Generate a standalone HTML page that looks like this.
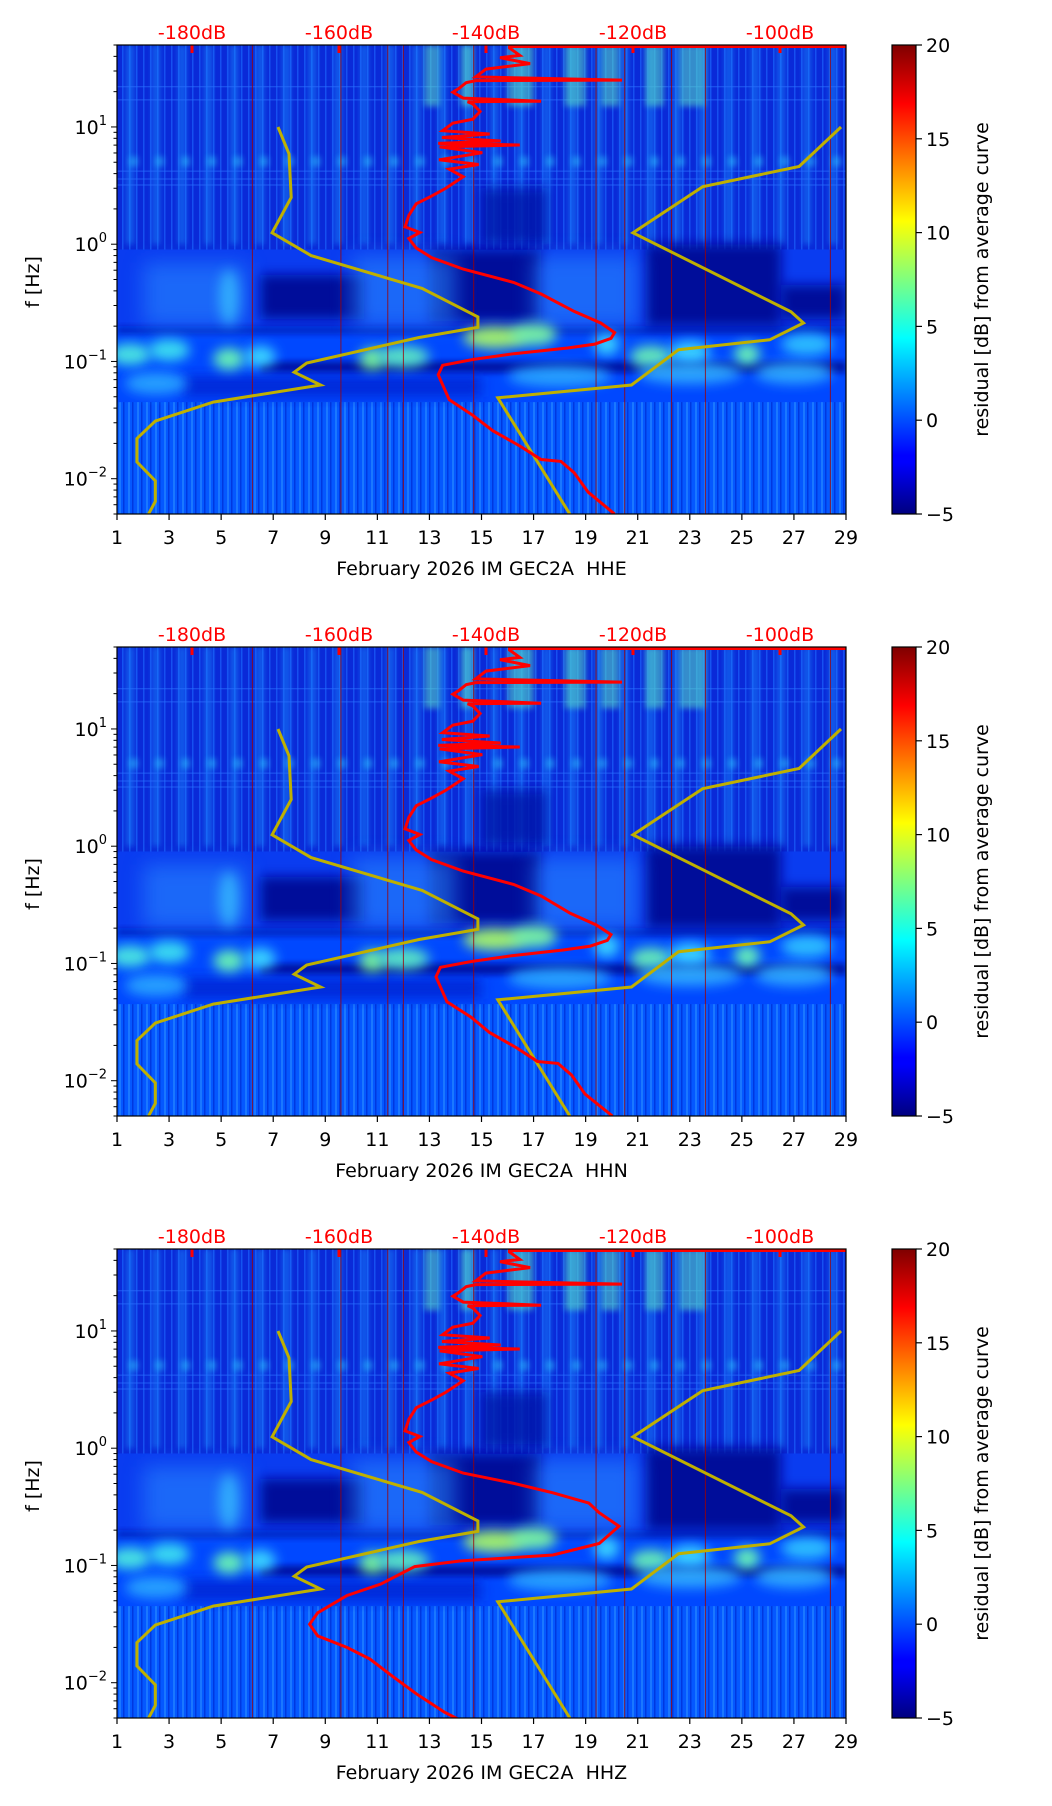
<!DOCTYPE html>
<html><head><meta charset="utf-8">
<style>
html,body{margin:0;padding:0;background:#fff;}
svg{display:block;font-family:"DejaVu Sans","Liberation Sans",sans-serif;}
</style></head>
<body>
<svg id="fig" width="1052" height="1806" viewBox="0 0 1052 1806" xmlns="http://www.w3.org/2000/svg">
<defs>
<linearGradient id="jet" x1="0" y1="1" x2="0" y2="0">
<stop offset="0" stop-color="#00007f"/><stop offset="0.11" stop-color="#0000ff"/><stop offset="0.125" stop-color="#0000ff"/>
<stop offset="0.375" stop-color="#00ffff"/><stop offset="0.5" stop-color="#7fff7f"/><stop offset="0.625" stop-color="#ffff00"/>
<stop offset="0.875" stop-color="#ff0000"/><stop offset="1" stop-color="#7f0000"/>
</linearGradient>
<pattern id="vstripe" width="9" height="10" patternUnits="userSpaceOnUse">
<rect x="0" y="0" width="9" height="10" fill="#0458ff"/>
<rect x="2" y="0" width="2" height="10" fill="#1a78ff"/>
<rect x="6" y="0" width="1.5" height="10" fill="#0038e0"/>
</pattern>
<pattern id="vstripe2" width="7" height="10" patternUnits="userSpaceOnUse">
<rect x="0" y="0" width="7" height="10" fill="#0a2ad8"/>
<rect x="3" y="0" width="1.5" height="10" fill="#1650f0"/>
</pattern>
<filter id="blur6" x="-50%" y="-50%" width="200%" height="200%"><feGaussianBlur stdDeviation="6"/></filter>
<filter id="blur3" x="-50%" y="-50%" width="200%" height="200%"><feGaussianBlur stdDeviation="3"/></filter>
<filter id="blur10" x="-50%" y="-50%" width="200%" height="200%"><feGaussianBlur stdDeviation="10"/></filter>
</defs>
</svg>
<script>
// ---- chart data ----
const dayTicks = [1,3,5,7,9,11,13,15,17,19,21,23,25,27,29];
const dbTicks = [-180,-160,-140,-120,-100];
const yTickExp = [1,0,-1,-2];
const cbTicks = [20,15,10,5,0,-5];
const channels = ["HHE","HHN","HHZ"];
// low noise model (dB, frequency Hz)
const nlnmDb = [-168.3,-166.8,-166.5,-169.1,-163.8,-148.7,-141.1,-141.1,-149.1,-164.4,-166.1,-162.5,-177.1,-185.0,-187.5,-187.5,-185.0,-185.0,-185.9];
const nlnmFreq = [10,5.9,2.5,1.25,0.80,0.42,0.24,0.195,0.16,0.097,0.081,0.063,0.045,0.031,0.022,0.0139,0.0096,0.0064,0.005];
// high noise model
const nhnmDb = [-91.7,-97.4,-110.5,-120.0,-98.5,-96.8,-101.4,-113.8,-120.2,-138.4,-128.6];
const nhnmFreq = [10,4.6,3.1,1.25,0.265,0.213,0.153,0.126,0.063,0.049,0.005];
// median PSD upper part (dB, log10 f), shared shape
const redUpperDb = [-90.4,-136.8,-136.8,-135.4,-138.1,-134.0,-140.0,-141.4,-121.5,-141.4,-142.7,-143.7,-144.5,-143.1,-132.5,-142.5,-141.8,-140.8,-141.8,-144.5,-145.9,-139.5,-146.0,-138.0,-146.5,-135.4,-146.3,-140.5,-146.4,-141.0,-145.0,-143.1,-145.5,-147.4,-149.5,-150.5,-151.0,-149.0,-150.5,-149.5,-147.4,-143.1];
const redUpperLogF = [1.699,1.699,1.673,1.610,1.591,1.54,1.493,1.427,1.40,1.395,1.378,1.328,1.296,1.246,1.22,1.215,1.197,1.132,1.066,1.033,0.968,0.94,0.91,0.88,0.86,0.846,0.83,0.78,0.72,0.68,0.640,0.575,0.476,0.410,0.345,0.246,0.148,0.10,0.049,-0.032,-0.114,-0.212];
// lower parts per channel
const redLowerDb1 = [-136.2,-132.5,-128.0,-124.4,-122.5,-123.0,-125.2,-128.9,-136.2,-141.8,-145.9,-146.5,-145.0,-141.8,-139.1,-135.4,-132.5,-129.8,-128.0,-126.1,-122.5];
const redLowerLogF1 = [-0.327,-0.425,-0.573,-0.672,-0.754,-0.803,-0.852,-0.885,-0.934,-0.983,-1.033,-1.114,-1.327,-1.459,-1.590,-1.721,-1.836,-1.852,-1.950,-2.115,-2.301];
const redLowerDb2 = [-136.2,-132.5,-128.5,-125.0,-123.0,-123.5,-125.8,-129.5,-136.5,-142.0,-146.2,-146.8,-145.3,-142.0,-139.5,-135.8,-133.0,-130.2,-128.4,-126.5,-122.8];
const redLowerDb3 = [-136.2,-130.9,-126.0,-124.6,-121.9,-124.6,-130.9,-143.4,-149.7,-154.3,-158.9,-162.9,-164.0,-162.9,-158.9,-155.8,-152.7,-149.5,-145.7,-141.0];
const redLowerLogF3 = [-0.30,-0.38,-0.468,-0.55,-0.665,-0.813,-0.911,-0.961,-1.01,-1.158,-1.256,-1.404,-1.502,-1.601,-1.70,-1.798,-1.946,-2.094,-2.25,-2.40];
const vLineDays = [6.2,9.6,11.4,12.0,14.7,19.4,20.5,22.3,23.6,28.4];

// ---- layout ----
const L=117,R=846,H=469,CBX=892,CBW=24;
const tops=[45,647,1249];
const NS="http://www.w3.org/2000/svg";
const svg=document.getElementById('fig');
function mk(tag,attrs,parent){const e=document.createElementNS(NS,tag);for(const k in attrs)e.setAttribute(k,attrs[k]);(parent||svg).appendChild(e);return e;}
const xDay=d=>L+(d-1)/28*(R-L);
const xDb=db=>192+(db+180)/20*147;
const yLog=(top,lf)=>top+(Math.log10(50)-lf)/4*H;
const yF=(top,f)=>yLog(top,Math.log10(f));

function panel(pi){
  const top=tops[pi],bot=top+H;
  const g=mk('g',{});
  
  
  const cid='clip'+pi;
  const cp=mk('clipPath',{id:cid},g);mk('rect',{x:L,y:top,width:R-L,height:H},cp);
  const sp=mk('g',{'clip-path':'url(#'+cid+')'},g);
  
  
  // base layers
  mk('rect',{x:L,y:top,width:R-L,height:H,fill:'#0048ff'},sp);
  mk('rect',{x:L,y:top,width:R-L,height:yF(top,0.9)-top,fill:'url(#vstripe2)'},sp);
  mk('rect',{x:L,y:yF(top,0.9),width:R-L,height:yF(top,0.2)-yF(top,0.9),fill:'#0a3cf0'},sp);
  mk('rect',{x:L,y:yF(top,0.045),width:R-L,height:bot-yF(top,0.045),fill:'url(#vstripe)'},sp);
  // daily stripes in upper band
  for(let d=1;d<29;d++){
    const x=xDay(d+0.35);
    mk('rect',{x:x,y:top,width:xDay(d+0.65)-x,height:yF(top,1.0)-top,fill:'#1d90ff',opacity:0.5,filter:'url(#blur3)'},sp);
    mk('rect',{x:x+3,y:yF(top,5.6),width:9,height:yF(top,4.6)-yF(top,5.6),fill:'#30d0ff',opacity:0.45,filter:'url(#blur3)'},sp);
  }
  // horizontal hum lines
  [3.2,3.6,4.2,17,22].forEach(f=>{
    mk('line',{x1:L,x2:R,y1:yF(top,f),y2:yF(top,f),stroke:'#2a70ff','stroke-width':1,opacity:0.7},sp);
  });
  // bright high-frequency columns
  [[12.8,13.4],[14.2,14.7],[16.0,17.0],[18.2,19.0],[19.6,20.3],[21.3,22.0],[22.6,23.6]].forEach(c=>{
    mk('rect',{x:xDay(c[0]),y:top,width:xDay(c[1])-xDay(c[0]),height:yF(top,15)-top,fill:'#60f0c0',opacity:0.5,filter:'url(#blur3)'},sp);
  });
  // dark navy regions
  const dark='#00089a';
  mk('rect',{x:xDay(15),y:yF(top,3),width:xDay(17.5)-xDay(15),height:yF(top,1)-yF(top,3),fill:'#0012a8',opacity:0.8,filter:'url(#blur6)'},sp);
  [[13.0,17.3,0.22,0.9],[21.3,26.5,0.2,1.0],[6.5,10.5,0.23,0.55],[26.5,29,0.23,0.45]].forEach(r=>{
    mk('rect',{x:xDay(r[0]),y:yF(top,r[3]),width:xDay(r[1])-xDay(r[0]),height:yF(top,r[2])-yF(top,r[3]),fill:dark,filter:'url(#blur6)'},sp);
  });
  mk('rect',{x:xDay(1),y:yF(top,0.2),width:xDay(29)-xDay(1),height:yF(top,0.17)-yF(top,0.2),fill:dark,opacity:0.5,filter:'url(#blur3)'},sp);
  mk('rect',{x:xDay(6.5),y:yF(top,0.1),width:xDay(29)-xDay(6.5),height:yF(top,0.08)-yF(top,0.1),fill:dark,opacity:0.85,filter:'url(#blur3)'},sp);
  mk('rect',{x:xDay(3.5),y:yF(top,0.075),width:xDay(15)-xDay(3.5),height:yF(top,0.05)-yF(top,0.075),fill:'#0020d0',opacity:0.8,filter:'url(#blur6)'},sp);
  // diffuse cloud 0.2-0.6 Hz
  [[2,6,0.2,0.7],[10,14,0.2,0.8],[17,21,0.2,0.8]].forEach(r=>{
    mk('rect',{x:xDay(r[0]),y:yF(top,r[3]),width:xDay(r[1])-xDay(r[0]),height:yF(top,r[2])-yF(top,r[3]),fill:'#2a8cff',opacity:0.55,filter:'url(#blur10)'},sp);
  });
  // microseism blobs
  [[1.5,0.115,0.8,'#50f0e0'],[3,0.125,0.8,'#40e8f0'],[5.3,0.105,0.6,'#70ffb0'],[6.5,0.11,0.6,'#40e0ff'],[10.8,0.105,0.5,'#80ff90'],[12,0.11,1.0,'#60f0c0'],[15.5,0.16,1.2,'#b0ff60'],[17,0.17,0.9,'#80ffa0'],[19.8,0.14,0.5,'#40e0ff'],[21.5,0.11,0.8,'#70f8b0'],[23,0.12,0.8,'#40e0ff'],[25.2,0.115,0.5,'#70ffb0'],[27.5,0.14,1.0,'#30c8ff'],[2.5,0.065,1.2,'#2aa8ff'],[18,0.075,2,'#2aa8ff'],[23,0.08,2,'#30b0ff'],[27,0.08,1.5,'#30b0ff']].forEach(b=>{
    mk('ellipse',{cx:xDay(b[0]),cy:yF(top,b[1]),rx:b[2]*26,ry:11,fill:b[3],opacity:0.9,filter:'url(#blur6)'},sp);
  });
  mk('ellipse',{cx:xDay(5.3),cy:yF(top,0.35),rx:10,ry:28,fill:'#40d8ff',opacity:0.6,filter:'url(#blur6)'},sp);
  // spectral vertical lines (thin dark red)
  vLineDays.forEach(d=>{
    const l=mk('line',{x1:xDay(d),x2:xDay(d),y1:top,y2:bot,stroke:'#a00000','stroke-width':1,opacity:0.8},sp);
    
    
  });
  // top dB ticks
  dbTicks.forEach(db=>{
    const t=mk('rect',{x:xDb(db)-1.5,y:top,width:3,height:8,fill:'#ff0000'},g);
    
    
  });
  // noise models
  const pts=(dbs,fs)=>dbs.map((v,i)=>xDb(v).toFixed(1)+','+yF(top,fs[i]).toFixed(1)).join(' ');
  const nl=mk('polyline',{points:pts(nlnmDb,nlnmFreq),fill:'none',stroke:'#bfb000','stroke-width':3,'clip-path':'url(#'+cid+')'},g);
  
  
  const nh=mk('polyline',{points:pts(nhnmDb,nhnmFreq),fill:'none',stroke:'#bfb000','stroke-width':3,'clip-path':'url(#'+cid+')'},g);
  
  
  // red PSD
  let lowDb,lowLf;
  if(pi===0){lowDb=redLowerDb1;lowLf=redLowerLogF1;}
  else if(pi===1){lowDb=redLowerDb2;lowLf=redLowerLogF1;}
  else {lowDb=redLowerDb3;lowLf=redLowerLogF3;}
  const allDb=redUpperDb.concat(lowDb), allLf=redUpperLogF.concat(lowLf);
  const rp=allDb.map((v,i)=>xDb(v).toFixed(1)+','+yLog(top,allLf[i]).toFixed(1)).join(' ');
  const rl=mk('polyline',{points:rp,fill:'none',stroke:'#ff0000','stroke-width':3,'clip-path':'url(#'+cid+')'},g);
  
  
  const rt=mk('line',{x1:xDb(-136.8),x2:R,y1:top+1.5,y2:top+1.5,stroke:'#ff0000','stroke-width':3},g);
  
  
  // frame
  const fr=mk('rect',{x:L,y:top,width:R-L,height:H,fill:'none',stroke:'#000','stroke-width':1.2},g);
  
  
  // x ticks
  dayTicks.forEach(d=>{
    mk('line',{x1:xDay(d),x2:xDay(d),y1:bot,y2:bot+6,stroke:'#000','stroke-width':1.2},g);
    const t=mk('text',{x:xDay(d),y:bot+30,'text-anchor':'middle','font-size':19,fill:'#000'},g);
    t.textContent=d;
    
    
  });
  const xl=mk('text',{x:(L+R)/2,y:bot+61,'text-anchor':'middle','font-size':19,fill:'#000'},g);
  xl.textContent='February 2026 IM GEC2A\u00a0 '+channels[pi];
  
  
  // top dB labels
  dbTicks.forEach(db=>{
    const t=mk('text',{x:xDb(db),y:top-6,'text-anchor':'middle','font-size':19,fill:'#ff0000'},g);
    t.textContent=db+'dB';
    
    
  });
  // y ticks
  for(let e=-3;e<=1;e++){
    for(let m=1;m<10;m++){
      const lf=e+Math.log10(m);
      if(lf<Math.log10(0.005)-1e-9||lf>Math.log10(50)+1e-9)continue;
      const y=yLog(top,lf);
      mk('line',{x1:L-(m===1?6:3.5),x2:L,y1:y,y2:y,stroke:'#000','stroke-width':1},g);
    }
  }
  yTickExp.forEach(e=>{
    const y=yLog(top,e);
    const t=mk('text',{x:L-10,y:y+7,'text-anchor':'end','font-size':19,fill:'#000'},g);
    
    
    const a=mk('tspan',{},t);a.textContent='10';
    const b=mk('tspan',{dy:-9,'font-size':13},t);b.textContent=(e<0?'\u2212':'')+Math.abs(e);
  });
  const yl=mk('text',{x:0,y:0,transform:'translate(39,'+(top+237)+') rotate(-90)','text-anchor':'middle','font-size':19,fill:'#000'},g);
  yl.textContent='f [Hz]';
  
  
  // colorbar
  const cb=mk('rect',{x:CBX,y:top,width:CBW,height:H,fill:'url(#jet)',stroke:'#000','stroke-width':1.2},g);
  
  
  cbTicks.forEach(v=>{
    const y=bot-(v+5)/25*H;
    mk('line',{x1:CBX+CBW,x2:CBX+CBW+6,y1:y,y2:y,stroke:'#000','stroke-width':1.2},g);
    const t=mk('text',{x:CBX+CBW+10,y:y+7,'font-size':19,fill:'#000'},g);
    t.textContent=(v<0?'\u2212':'')+Math.abs(v);
    
    
  });
  const cl=mk('text',{x:0,y:0,transform:'translate(988,'+(top+H/2)+') rotate(-90)','text-anchor':'middle','font-size':19,fill:'#000'},g);
  cl.textContent='residual [dB] from average curve';
  
  
}
[0,1,2].forEach(panel);
</script>
</body></html>
